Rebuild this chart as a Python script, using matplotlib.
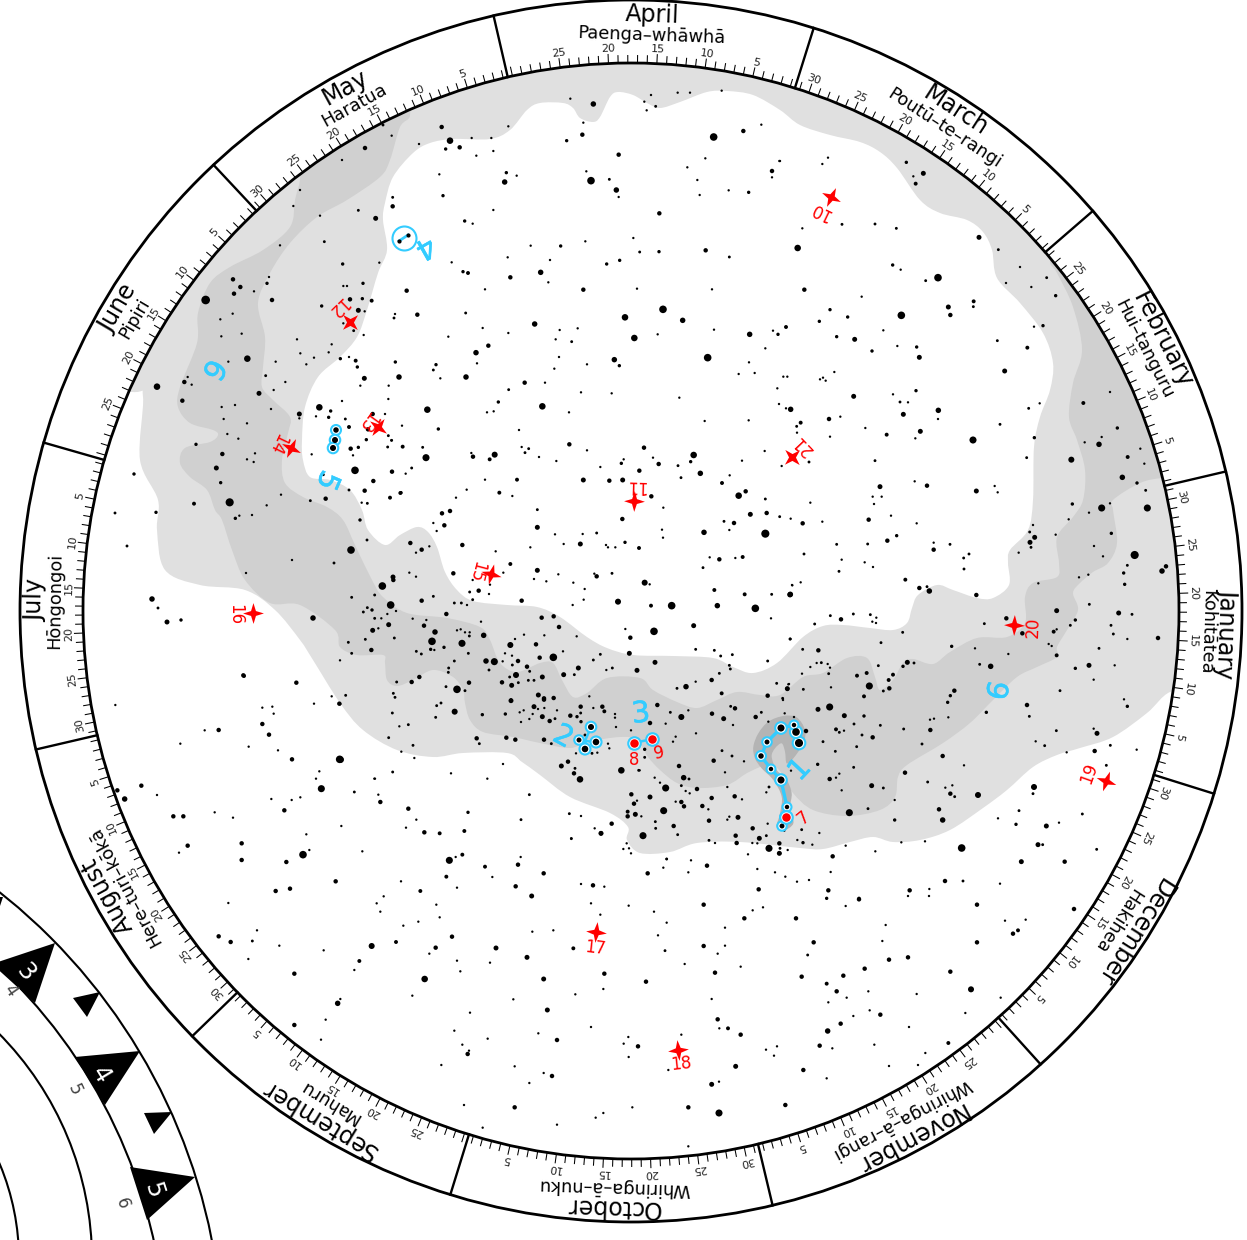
import matplotlib
matplotlib.use('Agg')
import matplotlib.pyplot as plt
import matplotlib.patheffects as path_effects
import numpy as np
from matplotlib.collections import LineCollection
from matplotlib.markers import MarkerStyle
from matplotlib.patches import Circle, PathPatch, Polygon
from matplotlib.path import Path
from matplotlib.transforms import Affine2D

# month ring, starting at January
month_names = ['January', 'February', 'March', 'April', 'May', 'June', 'July',
               'August', 'September', 'October', 'November', 'December']
maori_names = ['Kohitātea', 'Hui–tanguru', 'Poutū–te–rangi', 'Paenga–whāwhā', 'Haratua', 'Pipiri',
               'Hōngongoi', 'Here–turi–kōkā', 'Mahuru', 'Whiringa–ā–nuku', 'Whiringa–ā–rangi', 'Hakihea']
month_days = [31, 28, 31, 30, 31, 30, 31, 31, 30, 31, 30, 31]
month_starts = [-17.4, 13.2, 40.9, 72.6, 103.0, 133.1, 164.0, 193.1, 224.1, 252.8, 283.4, 312.1, 342.6]
month_label_angles = [-2.1, 27, 57, 88, 118.7, 149.5, 179, 208.5, 238.5, 268.3, 298, 327.5]

# stars as (x, y, size), x and y read from 3x crops, size is a rough magnitude class
origin_top = (380, 60)
stars_top = [(571,116,1),(640,132,4),(813,105,1),(793,125,1),(827,139,1.5),(800,151,1),(893,98,1),(930,98,1),(1025,92,1),
(185,201,3),(35,227,1),(117,252,1),(210,242,5),(275,234,1),(334,234,1),(385,199,1),(197,267,2),(239,262,3),(340,273,1),(289,287,1),
(610,188,1),(607,224,3),(560,242,2),(716,284,3),(1001,231,6),(1090,213,3),(1144,194,1),(976,295,1),(922,322,1),(1176,333,3),(1176,352,1),(1198,303,1),
(178,343,1),(379,338,2),(410,347,1),(374,366,4),(619,334,1),(633,362,6),(688,358,1.5),(709,390,4),(716,411,1),(952,360,1),(1046,391,1),(1106,397,2),(959,405,1),
(38,412,1.5),(38,439,3),(189,407,2),(340,450,1),(838,460,3),(254,483,2),(278,491,1),(452,557,1),(542,558,2),(616,544,1),(760,534,1),(779,576,1.5),(837,575,2),(977,571,3),(1048,591,1.5),
(383,592,1),(510,600,1),(215,607,1),(249,635,2),(264,639,2.5),(482,637,4),(391,652,3),(680,612,2),(719,601,2),(505,667,1),(80,692,3),(315,688,1),(610,689,3),(771,686,1),(996,688,1),
(112,764,3),(257,759,1.5),(45,762,1),(42,774,1.5),(735,772,5),(849,748,6),(908,781,4),(464,792,4),(308,804,1),(385,819,1),(539,810,1),(593,805,1),(205,830,1),(527,838,1),(575,845,1.5),(763,834,5),(833,823,1),(1002,809,1),(1109,823,4),(1179,812,1),(1194,823,2),
(325,857,3),(288,878,4),(1156,865,1),(46,906,2),(168,914,2),(160,930,1.5),(291,910,1),(537,891,1),(703,899,4),(621,913,1),(718,917,2),(983,893,6),(1107,907,1),(523,926,1),(1076,942,1),(1124,939,1),
(57,951,4),(258,951,4),(181,955,1),(434,968,3),(495,968,1),(26,977,1),(386,989,1.5),(603,997,1),(695,1000,1),(1192,985,1),(25,1017,1),(355,1026,2),(898,1013,1),(1197,1032,1),
(142,1049,5),(487,1039,5),(321,1057,1),(341,1054,1),(567,1057,1),(15,1062,1),(974,1083,1),(1106,1081,1),(66,1097,1),(175,1107,2),(417,1110,1),(25,1127,1.5),(35,1141,1.5)]

origin_left = (130, 200)
stars_left = [(490,18,1),(685,31,1.5),(570,47,1),(737,55,3.5),(583,125,1.5),(450,136,1),(638,192,2),(748,188,1),
(417,231,1),(309,238,3),(411,250,2),(699,250,2),(640,258,1),(651,258,1),(331,261,3),(312,281,3),(372,274,1),(660,298,3),(697,296,2),(725,302,2.5),(227,300,7),(426,300,3),(575,318,2),(685,331,3.5),(704,334,1),(308,341,1),(271,358,1),(640,370,1),(671,392,1.5),(701,405,1),(274,409,1),(335,401,1),(501,418,1),(605,433,1),(511,460,1),(657,471,1),(552,473,1),(596,457,1),(631,476,2),(677,482,2.5),(682,501,2),(352,476,5),(295,485,1),(437,485,1),(529,493,1),(407,527,1.5),(703,535,3.5),(163,546,3),(173,531,1),(185,554,1),(81,560,5),(466,546,1),(691,557,1),(431,570,1),(387,580,3.5),(157,602,3),(636,603,1),(568,622,5),(602,633,2),(275,621,1),(315,615,1),(423,627,1),(508,642,3.5),(508,655,1),(558,649,1),(596,652,2),(646,657,1.5),(728,642,3),(281,657,1),(351,670,1),(292,702,1),(657,681,2.5),(714,688,3),(709,719,2),
(325,716,1),(198,733,2),(545,763,1),(662,746,3),(685,742,2),(669,766,1),(773,741,1.5),(784,721,1),(277,762,3),(375,760,1),(351,778,1),(371,786,1),(259,804,3.5),(675,811,6),(786,815,3),(272,848,2),(580,824,1.5),(730,843,3),(657,870,1.5),(704,872,3),(453,884,1),(587,896,3),(780,893,2.5),(811,879,2.5),(12,822,2),(192,911,2.5),(541,902,1.5),(299,907,6.5),(695,908,1),(712,910,1.5),(410,916,1),(78,937,2),(328,947,1),(366,945,1),(316,955,2)]

origin_upper_right = (780, 100)
stars_upper_right = [(379,187,2),(430,220,3.5),(400,229,1),(407,251,2.5),(144,173,1),(127,192,1),(0,183,1),
(67,385,1),(186,373,1.5),(285,372,1.5),(349,385,1.5),(597,412,3.5),(53,444,5),(655,449,1.5),(338,495,2),(362,509,1),(720,501,1),(474,533,6),(437,542,1.5),(678,549,1),(800,533,1.5),(754,561,1),(73,569,3),(827,587,2),(245,590,1),(581,604,2.5),(580,620,1.5),(505,621,3.5),(150,629,2),(511,645,3),(364,646,6),(203,651,2),(118,664,2),(18,681,2.5),(310,691,1),(170,710,2),(224,718,3.5),(762,680,1),(789,677,2),(652,722,1.5),(352,738,1),(410,741,2),(742,743,2.5),(276,753,2),(418,772,3.5),(674,813,3.5),(163,816,1),(10,830,1),(22,830,1),(129,833,1),(120,838,1),(137,842,1),(408,872,2),(221,889,3.5),(339,883,1),(360,906,1.5),(384,907,1),(990,876,1),(910,909,2.5),(779,910,1),(32,928,4),(18,925,1),(746,925,1.5),(475,931,4),(370,943,3.5),(474,957,1),(147,957,3),(181,950,1),(62,968,2.5),(50,979,1.5),(660,973,1.5),(1012,984,2),(256,984,1),(421,994,3.5),(51,998,1),(320,1004,2.5),(150,1010,1),(406,1015,1),(579,1020,5.5),(763,1013,2),(914,1027,1),(965,1011,1),(957,1033,4),(1081,1046,1),(285,1082,1.5),(87,1086,1.5),(5,1098,1),(740,1073,1.5),(874,1079,4.5),(1043,1071,2.5),(1093,1091,1),(1027,1132,4),(1071,1149,2),(404,1144,1),(441,1157,3),(300,1160,3.5),(589,1173,3.5),(644,1158,1),(653,1177,1),(278,1190,1),(305,1190,1),(1097,1171,1.5)]

origin_right = (780, 500)
stars_right = [(91,8,1),(282,12,1),(877,12,2),(965,24,5.5),(990,10,1),(1102,24,5.5),(927,38,1),(32,56,1),(68,70,3),(266,59,3),(127,65,1),(333,47,1),(410,70,1),(866,58,1),(759,75,1),(749,96,1.5),(764,112,3.5),(350,107,2),(322,122,3),(827,104,1),(994,100,2),(750,127,3.5),(753,142,1.5),(170,133,1.5),(263,132,1.5),(461,128,1),(510,133,1.5),(461,149,3),(942,138,1),(72,162,1.5),(716,158,1),(1064,165,6.5),(567,162,1.5),(551,174,1.5),(969,169,1),(185,179,1),(254,187,1),(279,201,1),(552,207,1.5),(1042,196,1.5),(1158,199,3),(1146,213,4),(177,214,1.5),(1031,219,2),(925,224,1),(897,232,1),(376,239,2.5),(62,247,1),(37,256,1),(1034,253,2),(775,250,1),(441,260,1.5),(418,264,3),(448,273,4),(30,284,4),(589,285,3),(928,313,1.5),(830,332,3.5),(1016,339,3.5),(1056,343,1.5),(151,347,1.5),(220,342,1.5),(183,358,3),(271,344,1.5),(289,353,1),(277,365,1),(288,369,1),(679,355,3),(886,360,2),(613,371,1.5),(104,372,1.5),(993,376,1.5),(871,376,1.5),(830,388,1),(821,395,2.5),(727,400,3),(368,397,1.5),(1000,402,1.5),(1134,414,3),(31,417,1.5),(1042,417,1),(806,432,1),(815,438,1),(303,428,1.5),(515,439,2),(585,445,1),(957,445,1.5),(68,448,1.5),(115,451,3),(685,462,1),(830,466,2.5),
(124,488,1.5),(110,489,1),(91,501,1),(143,492,1),(150,503,1),(382,487,3.5),(402,489,1.5),(369,499,2),(295,497,1.5),(599,493,1.5),(632,499,4),(927,496,3.5),(1004,496,1),(886,505,2),(260,519,2.5),(231,527,2.5),(146,521,1.5),(66,521,1),(339,524,2.5),(326,540,2.5),(941,539,1),(268,558,5.5),(153,562,1),(25,553,1),(22,566,2.5),(70,568,1.5),(328,565,3),(310,573,1.5),(523,572,3),(840,572,1.5),(511,587,2),(252,589,2.5),(9,600,1),(1032,598,1),(503,607,2),(741,615,3),(149,621,5.5),(114,628,3.5),(1042,619,2),(619,637,2),(193,647,3.5),(252,648,2),(14,640,1),(42,651,1),(505,652,1),(748,649,1.5),(450,659,1),(462,656,1),(222,672,1.5),(301,676,1.5),(168,688,2.5),(78,693,3),(178,697,1.5),(192,692,1),(371,687,1.5),(451,690,3),(941,686,1),(951,700,3.5),(246,705,1.5),(829,692,1.5),(278,712,3),(129,725,1.5),(426,732,1.5),(767,724,1),(230,740,1.5),(794,737,1.5),(944,753,3),(991,736,1.5),(1070,749,1),(166,754,1.5),(860,757,1),(488,768,3),(113,793,2),(552,796,1),(979,796,1.5),(221,802,1.5),(33,812,1),(178,821,1),(168,833,1),(149,837,3),(375,818,3),(443,846,1.5),(275,857,3.5),(310,864,1.5),(517,856,1),(496,863,1),(762,861,4.5),(185,871,1),(511,881,3),(524,890,1.5),(759,881,1.5),(594,885,4.5),(344,900,1),(264,926,1.5),(477,928,3),(717,932,1.5),(208,938,5.5),(907,942,1.5),(654,955,1),(344,960,2),(488,960,4),(837,968,1),(708,973,2),(799,978,3.5),(65,989,1.5),(118,999,1),(52,1020,1),(69,1028,2),(97,1034,1),(364,1027,1),(435,1024,1),(197,1037,1),(774,1034,3.5),(788,1034,1.5),(545,1044,6),(950,1048,1.5),(286,1054,1),(23,1050,1),(0,1045,1.5),(0,1060,1.5),(158,1069,3),(724,1085,3.5),(854,1085,3),(152,1116,1),(16,1130,1),(495,1143,3),(549,1143,1.5),(660,1151,1),(51,1145,1),(87,1140,1),(145,1171,3),(389,1171,3),(448,1167,1),(384,1188,1),(447,1188,1),(140,1195,2),(237,1195,2)]

origin_centre = (400, 440)
stars_centre = [(8,20,2.5),(68,22,1.5),(78,53,5.5),(214,39,1),(219,50,3),(269,58,2.5),(284,44,4.5),(365,21,1),(386,26,1.5),(375,38,1.5),(417,51,1),(469,63,1),(508,13,3),(561,31,1),(732,23,3),(881,45,5),(759,53,1),(872,65,2),(35,84,1.5),(17,101,1),(671,58,1),(664,70,2),(776,72,3),(834,77,1.5),(1026,62,1),(1094,33,1),(601,81,1),(718,92,3),(901,100,4),(989,106,1),(255,119,1),(351,119,2.5),(550,120,3.5),(628,122,3),(668,120,3.5),(843,113,1.5),(966,129,2.5),(1037,154,3),(3,158,2),(200,149,1),(298,158,2.5),(337,168,1),(168,173,1),(754,169,3),(1016,167,5),(1096,177,1.5),(790,203,1),(412,209,1.5),(150,213,3),(126,220,3),(1051,223,3.5),(1100,219,3),(1139,230,1.5),(667,237,3),(100,249,1),(133,256,3),(412,262,3.5),(972,244,1.5),(1002,249,3),(786,269,1),(110,273,1),(988,270,1),(912,277,4),(465,283,1),(548,282,1),(590,279,1.5),(1096,281,6.5),(789,293,1),(31,309,3),(187,315,3),(491,312,1),(541,312,3.5),(618,315,1),(624,322,1),(646,322,1),(675,307,2),(717,324,2.5),(65,329,3),(88,319,1),(48,338,1),(391,322,1),(287,334,1),(929,352,1),(958,358,3),(1006,354,1),(1028,351,2.5),(331,372,2.5),(909,383,1.5),(412,391,3.5),(160,400,3),(28,398,1),(48,410,1),(310,398,1),(475,403,1),(583,401,1),(590,409,3),(636,400,1.5),(218,420,1),(402,417,1),(439,424,1),(520,428,1),(734,428,4.5),(749,433,1),(270,434,1),(943,450,2.5),(554,447,1),(236,452,3),(209,456,1.5),(267,462,1),(1034,463,2.5),(1115,463,1.5),(1176,435,1),(1171,463,4),(365,482,3),(218,479,1.5),(65,482,3),(100,469,1.5),(163,489,1.5),(184,489,1.5),(201,495,1),(551,479,1),(654,485,4.5),(518,495,1),(753,497,2.5),(815,497,6),(952,497,4),(1066,505,6),(1113,535,1),(139,522,3),(425,533,3),(461,529,3),(38,536,1),(79,540,1),(243,545,1),(72,557,3),(477,561,3),(881,557,3.5),(105,576,4),(171,571,1),(182,568,1),(195,577,1),(209,577,1),(208,588,1.5),(372,584,1),(433,586,1),(251,586,4),(530,589,1),(676,567,1),(762,574,6),(345,597,1),(691,593,3),(1170,597,1.5),
(96,604,6),(186,610,5.5),(331,615,4.5),(408,613,3),(92,628,2),(103,630,1),(132,622,2),(49,634,1.5),(64,642,1.5),(205,640,1.5),(315,640,1),(336,647,1),(489,634,1),(601,643,1.5),(688,640,3.5),(887,628,1.5),(943,631,1.5),(962,648,1.5),(997,644,1.5),(1103,663,1.5),(258,663,4),(283,665,5.5),(308,664,1),(354,663,3),(419,653,3),(460,652,6),(163,663,1.5),(580,660,1.5),(765,667,3.5),(337,675,1.5),(381,680,3),(146,684,1.5),(267,690,1.5),(389,694,1.5),(535,684,3.5),(619,690,1),(637,684,1.5),(711,691,3.5),(988,676,1.5),(991,687,1.5),(145,697,1.5),(491,704,3.5),(523,704,1.5),(958,700,1.5),(348,705,4.5),(329,711,1.5),(427,711,3.5),(935,720,3),(58,711,3),(35,726,3),(207,728,3),(306,727,3),(355,728,1.5),(385,721,1.5),(402,721,1.5),(887,725,1),(1130,730,1.5),(1167,732,1),(335,736,3.5),(138,740,1.5),(171,748,6),(195,752,1.5),(831,745,1.5),(858,740,4),(1162,746,3.5),(965,760,2.5),(1103,767,3),(415,765,3.5),(568,769,1),(432,775,3),(461,774,3),(1148,775,1.5),(333,778,1)]

origin_band = (340, 580)
stars_band = [(127,18,6),(160,0,3),(35,52,1.5),(104,45,1.5),(152,75,6),(82,83,1.5),(70,96,1.5),(168,93,1),(142,102,1),(104,115,1.5),(124,115,1),(115,145,1),(146,134,3.5),(98,151,3.5),(163,174,1.5),(76,178,1.5),(25,187,1.5),(94,210,3),(35,220,1.5),(0,241,1),(170,306,1.5),(160,340,1.5),(165,352,1.5),(17,346,1.5),(0,372,1.5),(157,399,1.5),(178,439,1),(146,473,1.5),(158,576,1.5),(103,596,1),(2,539,5),
(290,377,1.5),(303,369,1.5),(344,395,4.5),(287,412,1.5),(205,434,1.5),(219,496,1.5),(184,515,1),(223,534,1),(410,475,3),(418,491,1.5),(333,580,1),(489,552,1),(442,596,1),
(513,362,3.5),(612,359,3),(582,380,3.5),(722,380,3),(787,380,3),(760,384,1),(551,391,1),(539,397,1),(594,387,1),(613,384,1),(651,391,1),(793,394,2.5),(496,402,2),(578,402,1),(722,399,1.5),(825,402,1),(825,413,1),(427,404,2),(607,410,3.5),(691,407,3),(711,410,2),(723,425,2),(568,417,1),(629,423,3),(645,416,1.5),(543,426,1),(828,441,1),(873,451,1),(735,465,1.5),(499,473,3),(526,479,3),(612,479,3),(634,491,1.5),(804,491,1),(808,505,1),(756,520,1.5),(772,518,1),(708,520,1),(664,558,3.5),(684,545,3),(705,565,1.5),(702,580,3),(844,571,5),(896,571,1.5),(720,598,5)]

origin_hook = (520, 680)
stars_hook = [(412,75,3),(484,111,4.5),(451,97,1.5),(505,91,1),(576,101,3),(611,116,3.5),(632,79,1.5),(645,85,3),(707,111,3),(724,97,1.5),(745,125,1),(639,135,1),(437,131,1),(528,160,1),(467,170,1),(459,185,1),(374,208,2),(374,232,1.5),(390,129,3),(606,212,1.5),(581,242,3),(636,228,1.5),(672,244,1),(477,258,3),(359,271,1),(615,277,1),(404,293,1),(491,293,4),(507,297,1.5),(420,308,1),(437,324,5.5),(484,317,1.5),(531,327,3),(622,321,1),(497,333,1),(509,340,1),(747,321,1.5),(739,337,1),(644,349,3),(666,358,1),(575,354,3),(390,351,3.5),(351,362,1),(467,365,1),(484,366,3),(342,371,3),(492,379,3),(547,378,3),(565,388,1),(431,392,5.5),(323,395,2.5),(323,409,3),(346,403,3.5),(364,409,1),(654,412,3.5),(628,410,1),(622,419,1),(567,422,3),(406,425,1.5),(743,431,1),(461,438,3),(407,445,1.5),(698,445,3),(369,467,5.5),(473,464,1.5),(647,467,3),(739,467,1.5),(718,475,3.5),(567,481,1.5),(585,489,1),(697,489,1),(712,490,1),(650,489,3),(747,505,5.5),(320,490,1),(310,507,1),(327,505,1),(333,520,1),(684,523,1),(275,431,3),(243,460,3),(154,476,1.5),(224,445,1),(148,401,1.5),(183,408,1),(3,419,1.5),(28,344,1.5),(334,343,3),(440,537,1),(778,490,3),(778,520,3.5),(793,452,1)]

origin_bottom = (430, 830)
stars_bottom = [(272,81,1),(264,104,3),(165,110,2.5),(341,130,3),(187,141,1),(257,169,3),(305,198,3.5),(489,166,3),(453,162,1),(523,170,1),(483,220,1),(511,254,1),(596,227,1),(672,245,1),(710,87,1.5),(700,113,1),(653,130,3),(783,91,1),(775,127,1),(831,107,3),(982,117,1),(1035,127,1),(986,178,3),(821,224,3),(710,278,1),(968,241,1),(999,232,1),(943,265,3),(1098,265,3),(885,293,1),(684,316,1),(1151,337,3),(821,348,3),(885,347,1),(705,362,1.5),(863,371,1),(1133,375,1.5),(764,402,1),(932,410,1),(855,428,3),(1115,440,3),(1190,461,2.5),(648,455,3),(523,431,3),(520,477,1),(430,355,2.5),(370,301,1),(307,305,1),(198,354,3.5),(291,382,3.5),(180,398,1),(341,447,3.5),(436,493,1),(250,508,1),(845,507,1),(1195,517,1),(352,540,3.5),(863,568,3),(868,595,1),(894,595,2.5),(932,614,3),(754,614,1),(483,591,1),(325,610,1),(1193,603,4),(595,621,1),(624,649,3),(581,641,1),(381,630,3),(173,626,1),(1008,659,1),(1041,649,1),(1032,677,1),(1169,647,3),(596,681,1),
(34,705,1),(254,709,1),(917,709,3.5),(1120,720,3),(715,720,1),(341,729,1),(366,738,3),(867,755,1),(845,763,3.5),(298,759,1),(1190,745,1),(102,825,1),(254,832,3),(607,832,1),(775,832,3),(1066,825,3),(867,849,5.5),(520,849,1),(497,863,1),(381,884,1),(158,893,1),(775,949,1),(513,10,3.5),(424,25,1)]

origin_lower_left = (80, 660)
stars_lower_left = [(490,46,3),(649,68,3),(702,131,1),(755,109,1),(778,131,3),(106,135,1),(547,143,1),(577,140,1),(581,161,1),(547,192,3),(416,210,3),(374,211,1),(567,224,3),(301,251,1),(506,260,1),(594,271,1),(636,298,3),(779,298,6),(718,334,1),(708,356,1),(184,377,3),(112,391,3),(134,417,4),(231,405,1),(724,386,5.5),(574,417,1),(635,420,1),(661,412,1),(613,451,3),(404,457,1),(280,469,3),(310,469,3),(459,473,1),(679,523,1),(485,550,3),(323,557,3),(297,578,1),(688,570,1),(669,584,6),(485,600,3),(619,606,3),(767,664,3),(587,693,3),(630,686,3),(445,729,1),(531,811,1),(416,829,3),(452,846,3),(517,843,1.5),(598,857,1),(731,871,1),(505,897,1),(643,941,3),(773,1030,4),(781,1017,1),(737,1079,1),(643,1095,3),(723,1139,1),
(885,356,1),(823,396,1.5),(895,404,1),(901,426,3),(985,446,3),(1164,457,2),(1009,479,1),(784,498,1),(978,503,1),(1033,517,3),(1079,520,2.5),(1153,513,2.5),(847,574,1),(1108,601,5.5),(1127,591,1),(1147,584,2.5),(1099,650,2.5),(963,664,1),(1021,693,2.5),(1131,683,1),(911,709,1),(890,730,1),(1069,734,1),(901,755,1),(1079,772,1),(970,797,1),(1015,785,1),(1116,830,3),(875,858,4.5),(948,846,2.5),(1067,863,3),(1048,881,1),(838,903,2.5),(1131,902,1),(823,930,1),(1141,934,1),(1034,957,5),(997,1007,1),(1170,1058,1),(1123,1112,1),(1147,1154,1),(1163,1182,3),(1167,1172,1)]

origin_lower_right = (800, 840)
stars_lower_right = [(177,178,3),(531,194,3),(137,198,1),(822,207,3),(615,242,1),(677,239,1),(257,255,1),(654,271,2.5),(639,281,3),(247,303,1),(531,307,3),(324,352,3),(267,359,3),(194,386,3),(451,395,3),(130,407,3),(110,454,3),(205,454,1),(513,448,4.5),(350,462,1),(140,473,1),(602,473,1),(496,519,1),(209,511,1),(241,524,3),(160,528,1),(122,551,3),(327,561,1),(445,609,2.5),(97,625,1),(223,614,1),(376,639,1),(354,675,1),(267,678,1)]

stars_misc = [(115,513,1.5),(127,546,1.5),(152,599,4),(158,608,1.5),(167,622,3.5),(181,620,2),(246,573,1),(313,618,4),(351,550,6),(383,587,3),(393,577,3.5),(367,540,1.5),(360,520,2),(244,676,2.5),(365,148,3),(383,125,1.5),(342,160,1),(300,190,1),(334,563,1.5),(372,610,2),(292,560,1)]

# numbered objects
red_stars = {'10': (831,197), '12': (350,322), '13': (378,427), '14': (291,448), '11': (634,501), '21': (792,457),
             '15': (491,574), '16': (253,613), '17': (596,932), '18': (678,1050), '19': (1106,781), '20': (1014,625)}
red_star_labels = {'10': (820,211), '12': (337,307), '13': (367,422), '14': (277,444), '11': (635,486), '21': (803,445),
                   '15': (476,571), '16': (235,615), '17': (595,948), '18': (681,1064), '19': (1089,773), '20': (1033,627)}
red_dot_labels = {'7': (803,818), '8': (634,760), '9': (659,753)}
blue_labels = [('1',800,770), ('2',563,737), ('3',641,714), ('4',425,247), ('5',327,480), ('6',213,369), ('6',1000,691)]

# constellation figures, (x, y, size) in picture coordinates
figure_hook = [(799,743,6.5),(796,732,6),(794,725,3),(781,728,5.5),(767,742,3.5),(761,756,4),(771,769,3),(781,780,5.5),(787,807,3)]
figure_hook_tail = [(786,817,5.5),(782,826,3.5)]
figure_two = [(591,727,4.5),(579,740,3.5),(596,742,5),(585,749,5)]
figure_two_joint = (585,741)
figure_five = [(336,430,4),(335,440,4.5),(333,448,4.5)]
figure_four = [(399,241),(408,235)]
figure_four_ring = (404,238)
red_dots = [(786,817),(634,743),(652,739)]

# Milky Way outlines
light_outline = [(132,392),(143,397),(140,460),(158,500),(157,530),(165,570),(200,585),(245,590),(275,610),(300,640),(313,660),(340,703),(363,730),(397,750),(433,757),(463,753),(507,753),(522,762),(540,775),(570,797),(610,813),(628,827),(627,840),(640,853),(670,852),(697,843),(740,842),(800,848),(823,849),(850,842),(873,837),(893,842),(920,840),(950,830),(983,808),(1007,790),(1033,767),(1057,755),(1080,748),(1113,737),(1147,713),(1170,692),(1200,690),(1300,690),(1300,-50),(-50,-50),(-50,300),(60,390)]
hole_outline = [(385,203),(393,177),(413,153),(430,143),(453,139),(490,139),(510,130),(527,110),(540,103),(563,103),(573,108),(580,118),(593,122),(600,117),(610,97),(618,92),(633,95),(647,103),(660,108),(680,102),(707,92),(727,91),(753,95),(780,110),(800,125),(830,135),(860,142),(880,152),(897,168),(920,200),(940,213),(967,220),(983,232),(992,250),(997,278),(1020,303),(1043,333),(1053,363),(1050,390),(1040,417),(1034,447),(1033,500),(1028,530),(1010,550),(1008,563),(1009,585),(993,598),(977,598),(953,590),(937,585),(918,595),(912,608),(907,623),(893,630),(870,628),(843,625),(823,626),(803,637),(777,663),(753,673),(733,667),(713,658),(673,656),(633,655),(607,648),(587,637),(560,617),(537,607),(507,605),(473,601),(457,590),(445,572),(437,547),(428,532),(417,527),(400,535),(385,545),(368,530),(362,510),(350,490),(330,480),(310,477),(303,460),(302,440),(305,407),(318,377),(340,357),(357,337),(367,310),(378,273),(387,250),(383,220)]
dark_outline = [(410,115),(400,127),(390,160),(380,177),(347,200),(317,217),(290,243),(270,273),(258,303),(265,337),(263,367),(262,387),(273,400),(290,417),(288,433),(282,460),(285,483),(303,497),(327,507),(343,520),(355,545),(372,580),(383,597),(407,613),(447,618),(480,627),(490,640),(500,663),(517,672),(540,663),(553,663),(562,680),(573,697),(587,693),(607,678),(640,678),(653,690),(677,702),(697,708),(717,700),(737,692),(760,695),(780,695),(803,677),(823,673),(847,658),(867,658),(875,677),(880,690),(893,680),(903,663),(913,659),(933,664),(950,652),(977,638),(1007,637),(1025,623),(1025,597),(1033,583),(1057,577),(1059,563),(1057,537),(1073,517),(1083,500),(1085,470),(1077,440),(1069,417),(1073,383),(1082,350),(1073,307),(1057,273),(1050,260),(1060,230),(1140,290),(1200,400),(1190,478),(1163,478),(1140,483),(1113,500),(1113,510),(1117,543),(1108,563),(1093,572),(1080,583),(1073,593),(1078,610),(1067,630),(1057,647),(1057,657),(1037,667),(1017,677),(993,700),(970,723),(943,743),(907,765),(898,777),(895,797),(880,810),(847,816),(813,810),(793,793),(783,775),(770,762),(760,767),(747,773),(727,785),(697,788),(677,783),(660,770),(648,757),(637,740),(620,737),(587,742),(570,748),(540,743),(513,737),(483,732),(470,720),(465,703),(463,690),(453,677),(433,670),(413,680),(397,686),(387,680),(385,663),(383,655),(357,655),(340,647),(335,630),(300,605),(270,603),(245,580),(232,550),(222,520),(215,510),(207,490),(190,477),(180,463),(185,448),(210,442),(218,435),(213,430),(190,423),(178,407),(180,387),(197,343),(198,313),(210,283),(230,267),(263,250),(290,227),(295,200),(300,175),(290,150),(400,90)]
hook_outline = [(700,200),(715,160),(745,125),(790,108),(830,112),(855,150),(850,190),(820,235),(800,250),(795,215),(785,190),(765,205),(755,230),(770,270),(800,300),(815,340),(810,385),(820,430),(790,452),(770,440),(780,400),(785,350),(760,300),(725,265),(705,235)]

# second dial in the lower left corner
big_triangles = [('3', [(55,943),(-8,964),(35,1003)], (25,972), -50),
                 ('4', [(140,1051),(75,1057),(105,1105)], (101,1075), -59),
                 ('5', [(195,1177),(130,1167),(147,1220)], (153,1190), -72)]
small_triangles = [[(100,992),(73,998),(87,1017)], [(172,1112),(144,1113),(154,1134)], [(-6,897),(3,897),(-2,912)]]
scale_labels = [('4',10,990,-55), ('5',75,1090,-65), ('6',122,1203,-72)]

centre_x, centre_y = 631, 611
inner_radius, outer_radius = 548, 611
blue = '#33ccff'


def smooth_path(points):
    # closed Catmull-Rom outline turned into bezier segments
    pts = np.array(points, dtype=float)
    n = len(pts)
    vertices = [pts[0]]
    codes = [Path.MOVETO]
    for i in range(n):
        p0, p1, p2, p3 = pts[i - 1], pts[i], pts[(i + 1) % n], pts[(i + 2) % n]
        vertices += [p1 + (p2 - p0) / 6, p2 - (p3 - p1) / 6, p2]
        codes += [Path.CURVE4] * 3
    return Path(vertices, codes)


def polar(theta, radius):
    t = np.radians(theta)
    return centre_x + radius * np.cos(t), centre_y - radius * np.sin(t)


def position_angle(x, y):
    return np.degrees(np.arctan2(centre_y - y, x - centre_x))


def marker_area(diameter):
    # pixels to points at dpi 100
    return (diameter * 0.72) ** 2


def star_diameter(size):
    return 1.3 + 1.05 * size


def add_stars(stars, origin=None):
    star_array = np.array(stars, dtype=float)
    if origin is None:
        xs, ys = star_array[:, 0], star_array[:, 1]
    else:
        xs, ys = origin[0] + star_array[:, 0] / 3, origin[1] + star_array[:, 1] / 3
    axes.scatter(xs, ys, s=marker_area(star_diameter(star_array[:, 2])), c='black', linewidths=0, zorder=6)


def add_rings(stars):
    star_array = np.array(stars, dtype=float)
    diameters = star_diameter(star_array[:, 2])
    axes.scatter(star_array[:, 0], star_array[:, 1], s=marker_area(diameters + 4.5), facecolors='white',
                 edgecolors=blue, linewidths=1.5, zorder=8)
    axes.scatter(star_array[:, 0], star_array[:, 1], s=marker_area(diameters), c='black', linewidths=0, zorder=9)


def add_outline(points, colour, zorder):
    patch = PathPatch(smooth_path(points), facecolor=colour, edgecolor='none', zorder=zorder)
    axes.add_patch(patch)
    patch.set_clip_path(disc_clip)


if __name__ == '__main__':
    figure = plt.figure(figsize=(12.47, 12.40), dpi=100)
    axes = figure.add_axes([0, 0, 1, 1])
    axes.set_xlim(0, 1247)
    axes.set_ylim(1240, 0)
    axes.axis('off')

    disc_clip = Circle((centre_x, centre_y), inner_radius, transform=axes.transData)

    add_outline(light_outline, '#e0e0e0', 1)
    add_outline(hole_outline, 'white', 2)
    add_outline(dark_outline, '#d0d0d0', 3)
    hook_points = [(origin_hook[0] + x / 3, origin_hook[1] + y / 3) for x, y in hook_outline]
    add_outline(hook_points, '#b4b4b4', 4)

    # rim
    for radius in (inner_radius, outer_radius):
        axes.add_patch(Circle((centre_x, centre_y), radius, fill=False, edgecolor='black', linewidth=2, zorder=5))

    ticks = []
    for i in range(12):
        start, end = month_starts[i], month_starts[i + 1]
        step = (end - start) / month_days[i]
        for day in range(1, month_days[i] + 1):
            theta = start + (day - 0.5) * step
            length = 9.5 if day % 5 == 0 else 8
            ticks.append([polar(theta, inner_radius), polar(theta, inner_radius + length)])
            # the 30 only shows in the 31 day months
            if day % 5 == 0 and day < month_days[i]:
                x, y = polar(theta, inner_radius + 14.5)
                axes.text(x, y, str(day), rotation=theta - 90, rotation_mode='anchor', ha='center', va='center',
                          fontsize=8, color='#222222', zorder=7)
        x, y = polar(start, inner_radius)
        x2, y2 = polar(start, outer_radius)
        axes.plot([x, x2], [y, y2], color='black', linewidth=1.7, zorder=5)
        middle = month_label_angles[i]
        x, y = polar(middle, 589)
        axes.text(x, y, month_names[i], rotation=middle - 90, rotation_mode='anchor', ha='center', va='baseline',
                  fontsize=17, zorder=7)
        x, y = polar(middle, 571)
        axes.text(x, y, maori_names[i], rotation=middle - 90, rotation_mode='anchor', ha='center', va='baseline',
                  fontsize=12.8, zorder=7)
    axes.add_collection(LineCollection(ticks, colors='black', linewidths=0.75, zorder=5))

    # stars
    add_stars(stars_top, origin_top)
    add_stars(stars_left, origin_left)
    add_stars(stars_upper_right, origin_upper_right)
    add_stars(stars_right, origin_right)
    add_stars(stars_centre, origin_centre)
    add_stars(stars_band, origin_band)
    add_stars(stars_hook, origin_hook)
    add_stars(stars_bottom, origin_bottom)
    add_stars(stars_lower_left, origin_lower_left)
    add_stars(stars_lower_right, origin_lower_right)
    add_stars(stars_misc)

    # constellation figures
    hook_line = figure_hook + figure_hook_tail
    axes.plot([s[0] for s in hook_line], [s[1] for s in hook_line], color=blue, linewidth=2.4, zorder=7)
    for star in figure_two:
        axes.plot([star[0], figure_two_joint[0]], [star[1], figure_two_joint[1]], color=blue, linewidth=1.8, zorder=7)
    axes.plot([red_dots[1][0], red_dots[2][0]], [red_dots[1][1], red_dots[2][1]], color=blue, linewidth=1.8, zorder=7)
    add_rings(figure_hook + figure_hook_tail)
    add_rings(figure_two)
    add_rings(figure_five)

    axes.scatter(figure_four_ring[0], figure_four_ring[1], s=marker_area(24), facecolors='white', edgecolors=blue,
                 linewidths=1.5, zorder=8)
    axes.plot([s[0] for s in figure_four], [s[1] for s in figure_four], color=blue, linewidth=2, zorder=9,
              marker='o', markersize=2, markerfacecolor='black', markeredgecolor='black')

    # red dots with their rings
    dot_xs, dot_ys = [s[0] for s in red_dots], [s[1] for s in red_dots]
    axes.scatter(dot_xs, dot_ys, s=marker_area(12.5), facecolors='white', edgecolors=blue, linewidths=1.5, zorder=10)
    axes.scatter(dot_xs, dot_ys, s=marker_area(8.5), c='#ff0000', linewidths=0, zorder=11)
    for label, (x, y) in red_dot_labels.items():
        axes.text(x, y, label, rotation=position_angle(x, y) + 90, rotation_mode='anchor', ha='center', va='center',
                  fontsize=12, color='#ff0000', zorder=11)

    # red four pointed stars
    star_shape = Path.unit_regular_star(4, innerCircle=0.33)
    for name, (x, y) in red_stars.items():
        angle = position_angle(x, y) + 90
        marker = MarkerStyle(star_shape, transform=Affine2D().rotate_deg(angle))
        axes.plot(x, y, marker=marker, markersize=15, color='#ff0000', markeredgewidth=0, zorder=10)
        lx, ly = red_star_labels[name]
        axes.text(lx, ly, name, rotation=angle, rotation_mode='anchor', ha='center', va='center',
                  fontsize=12, color='#ff0000', zorder=11)

    for label, x, y in blue_labels:
        text = axes.text(x, y, label, rotation=position_angle(x, y) + 90, rotation_mode='anchor', ha='center',
                         va='center', fontsize=21, color=blue, zorder=11)
        text.set_path_effects([path_effects.withStroke(linewidth=0.4, foreground=blue)])

    # corner dial
    for centre, radius in (((-366, 1354), 589), ((-366, 1354), 532), ((-230, 1260), 322), ((-230, 1260), 249)):
        axes.add_patch(Circle(centre, radius, fill=False, edgecolor='black', linewidth=1.5, zorder=5))
    for label, corners, position, rotation in big_triangles:
        axes.add_patch(Polygon(corners, closed=True, facecolor='black', edgecolor='none', zorder=6))
        axes.text(position[0], position[1], label, rotation=rotation, rotation_mode='anchor', ha='center', va='center',
                  fontsize=17, color='white', zorder=7)
    for corners in small_triangles:
        axes.add_patch(Polygon(corners, closed=True, facecolor='black', edgecolor='none', zorder=6))
    for label, x, y, rotation in scale_labels:
        axes.text(x, y, label, rotation=rotation, rotation_mode='anchor', ha='center', va='center',
                  fontsize=12, color='#444444', zorder=7)

    figure.savefig('out.png', dpi=100)
